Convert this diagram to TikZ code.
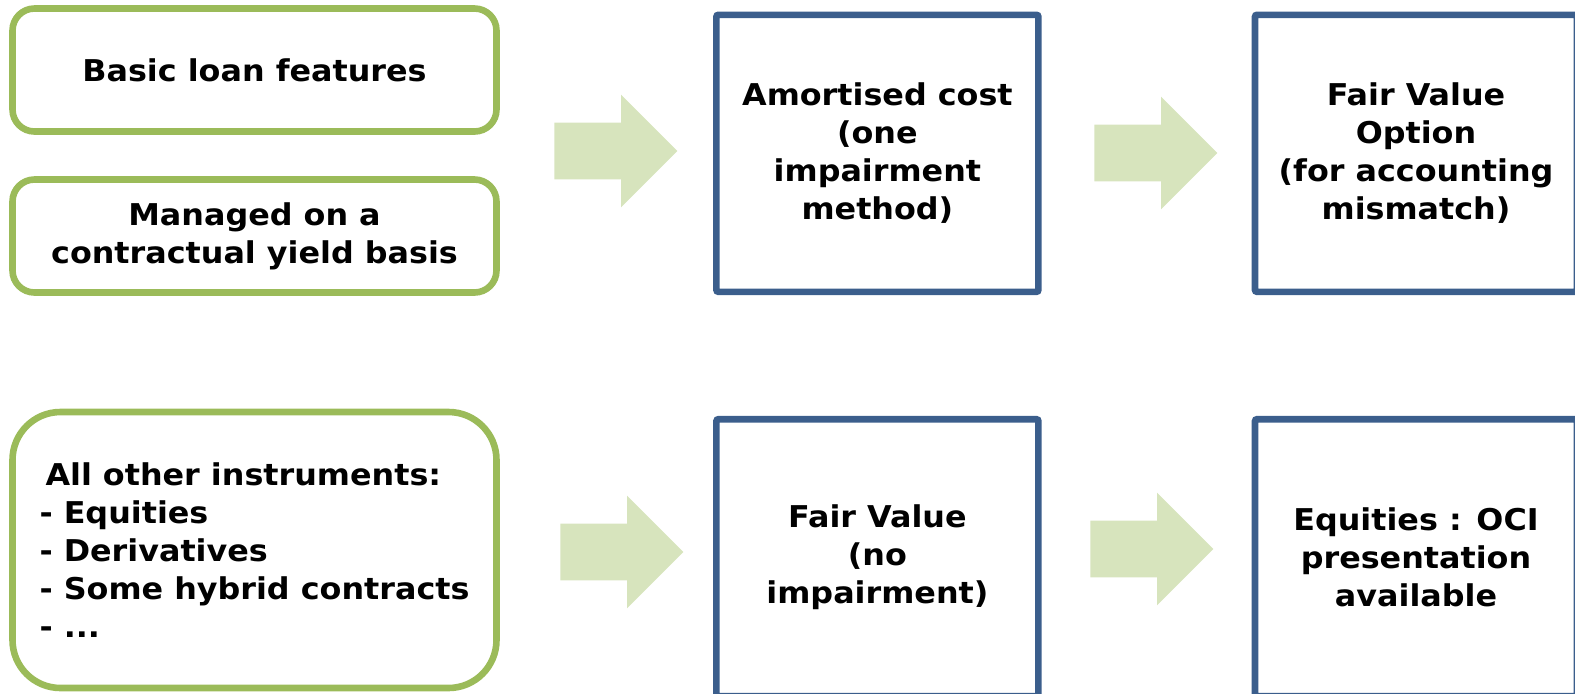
\documentclass[tikz,border=0pt]{standalone}
\usepackage{fontspec}
\setmainfont{DejaVu Sans}[FakeStretch=1.06]
\usetikzlibrary{shapes.arrows, positioning}
\definecolor{leafgreen}{HTML}{9BBB59}
\definecolor{paleleaf}{HTML}{D7E4BD}
\definecolor{slateblue}{HTML}{3B5E8C}
\tikzset{
every node/.style={font=\bfseries\fontsize{15pt}{19pt}\selectfont, align=center},
greenbox/.style={draw=leafgreen, line width=3.3pt, rounded corners=11pt, minimum width=242pt, inner sep=0pt},
bluebox/.style={draw=slateblue, line width=3.3pt, rounded corners=1pt, minimum width=161pt, minimum height=138.5pt, inner sep=0pt},
fatarrow/.style={single arrow, fill=paleleaf, draw=none, anchor=tail, minimum height=61.5pt, inner xsep=0pt, inner ysep=14pt, single arrow head extend=14pt, single arrow tip angle=90},
}

\begin{document}
\begin{tikzpicture}[x=0.5pt, y=-0.5pt]
    \clip (0,0) rectangle (1575,693);
        % left column
        \node[greenbox, minimum height=61.5pt] (basic) at (254.5,70) {Basic loan features};
        \node[greenbox, minimum height=56.5pt] (yield) at (254.5,236) {Managed on a\\contractual yield basis};
        \node[greenbox, minimum height=138pt, rounded corners=24pt, align=left] (other) at (254.5,550)
            {\hspace*{3pt}All other instruments:\\- Equities\\- Derivatives\\- Some hybrid contracts\\- ...};
        % right columns
        \node[bluebox] (amortised) at (877.4,153.3) {Amortised cost\\(one\\impairment\\method)};
        \node[bluebox] (fvo) at (1416,153.3) {Fair Value\\Option\\(for accounting\\mismatch)};
        \node[bluebox] (fairvalue) at (877.4,557.7) {Fair Value\\(no\\impairment)};
        \node[bluebox] (oci) at (1416,557.7) {Equities : OCI\\presentation\\available};
        % block arrows
        \node[fatarrow] (toamortised) at (554,151) {};
        \node[fatarrow] (tofvo) at (1094,153) {};
        \node[fatarrow] (tofairvalue) at (560,552) {};
        \node[fatarrow] (tooci) at (1090,549) {};
    \end{tikzpicture}
\end{document}
